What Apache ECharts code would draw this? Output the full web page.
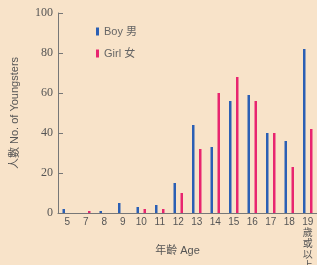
<!DOCTYPE html>
<html>
<head>
<meta charset="utf-8">
<script src="https://cdn.jsdelivr.net/npm/echarts@6/dist/echarts.min.js"></script>
<style>
  html, body { margin: 0; padding: 0; background: #f8e3c9; }
  #main { width: 317px; height: 265px; }
</style>
</head>
<body>
<div id="main"></div>
<script>
// 年齡組別 (6 歲沒有列出)
var ages = ['5', '7', '8', '9', '10', '11', '12', '13', '14', '15', '16', '17', '18', '19\n歲\n或\n以\n上']
var boys = [2, 0, 1, 5, 3, 4, 15, 44, 33, 56, 59, 40, 36, 82]
var girls = [0, 1, 0, 0, 2, 2, 10, 32, 60, 68, 56, 40, 23, 42]
var yTicks = [0, 20, 40, 60, 80, 100]

var chart = echarts.init(document.getElementById('main'), null, { renderer: 'canvas' })

var grey = '#777'

chart.setOption({
  backgroundColor: '#f8e3c9',
  animation: false,
  grid: { left: 58, top: 13, right: 0, bottom: 52, containLabel: false, outerBoundsMode: 'none' },
  legend: {
    orient: 'vertical',
    left: 91,
    top: 21,
    itemWidth: 3,
    itemHeight: 8,
    itemGap: 11,
    icon: 'rect',
    textStyle: { color: '#666', fontSize: 11, fontFamily: 'Liberation Sans, Noto Sans CJK TC' },
    data: ['Boy 男', 'Girl 女']
  },
  xAxis: {
    type: 'category',
    data: ages,
    name: '年齡 Age',
    nameLocation: 'middle',
    nameGap: 32,
    nameMoveOverlap: false,
    nameTextStyle: { color: '#555', fontSize: 11, fontFamily: 'Liberation Sans, Noto Sans CJK TC', padding: [0, 20, 0, 0] },
    axisLine: { lineStyle: { color: grey, width: 1 } },
    axisTick: { inside: true, length: 4, lineStyle: { color: grey } },
    axisLabel: {
      color: '#555', fontSize: 10, margin: 4, lineHeight: 11, interval: 0,
      fontFamily: 'Liberation Sans, Noto Sans CJK TC'
    }
  },
  yAxis: {
    type: 'value',
    min: yTicks[0],
    max: yTicks[yTicks.length - 1],
    interval: 20,
    name: '人數 No. of Youngsters',
    nameLocation: 'middle',
    nameGap: 38,
    nameRotate: 90,
    nameTextStyle: { color: '#555', fontSize: 11, fontFamily: 'Liberation Sans, Noto Sans CJK TC' },
    axisLine: { show: true, lineStyle: { color: grey, width: 1 } },
    axisTick: { show: true, inside: true, length: 5, lineStyle: { color: grey } },
    splitLine: { show: false },
    axisLabel: { color: '#555', fontSize: 12, margin: 5, fontFamily: '"Liberation Serif", "DejaVu Serif", serif' }
  },
  series: [
    {
      name: 'Boy 男',
      type: 'bar',
      data: boys,
      barWidth: 2.5,
      barGap: '180%',
      itemStyle: { color: '#2b5fb4' }
    },
    {
      name: 'Girl 女',
      type: 'bar',
      data: girls,
      barWidth: 2.5,
      itemStyle: { color: '#e8256f' }
    }
  ]
})
</script>
</body>
</html>
